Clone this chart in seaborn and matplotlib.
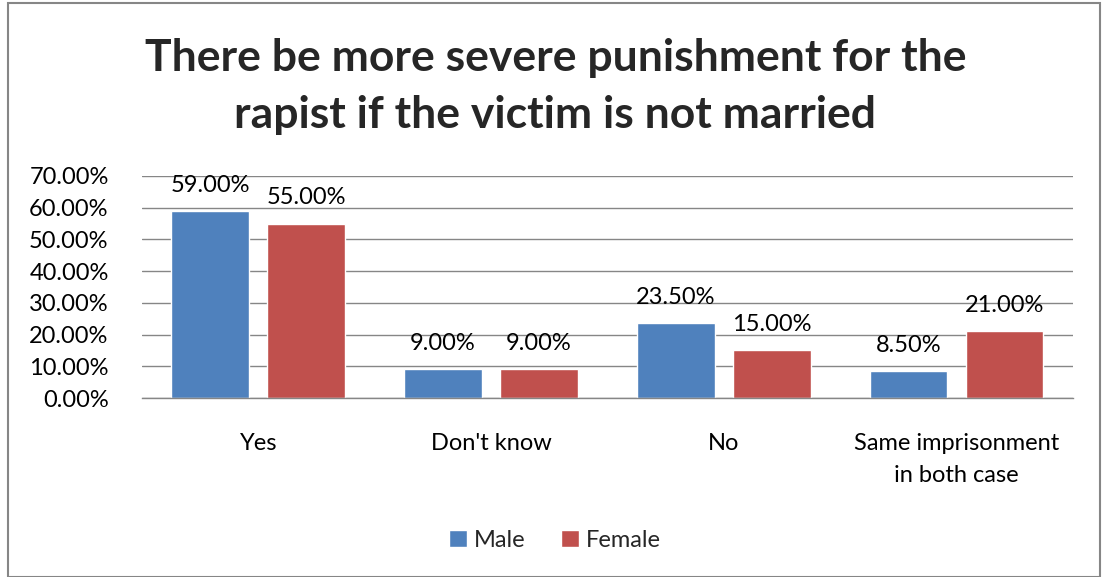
import matplotlib
matplotlib.use("Agg")
import matplotlib.pyplot as plt
from matplotlib.patches import Rectangle
from matplotlib.ticker import MultipleLocator, FuncFormatter
import seaborn as sns
import pandas as pd

categories = ["Yes", "Don't know", "No", "Same imprisonment\nin both case"]
male = [59.0, 9.0, 23.5, 8.5]
female = [55.0, 9.0, 15.0, 21.0]
series = ["Male", "Female"]
colors = ["#4F81BD", "#C0504D"]

df = pd.DataFrame({
    "category": categories * 2,
    "value": male + female,
    "sex": [series[0]] * len(categories) + [series[1]] * len(categories),
})

sns.set_theme(style="white")
plt.rcParams["font.family"] = ["Lato", "DejaVu Sans"]

fig = plt.figure(figsize=(11.04, 5.77), dpi=100)
ax = fig.add_axes([0.1286, 0.3102, 0.8433, 0.3848])

sns.barplot(data=df, x="category", y="value", hue="sex", palette=colors,
            width=0.825, gap=0.19, ax=ax, legend=True, saturation=1)

ax.set_ylim(0, 70)
ax.set_xlim(-0.5, len(categories) - 0.5)
ax.yaxis.set_major_locator(MultipleLocator(10))
ax.yaxis.set_major_formatter(FuncFormatter(lambda v, p: f"{v:.2f}%"))
ax.grid(axis="y", color="#868686", linewidth=1)
ax.set_axisbelow(True)
for s in ["top", "right", "left"]:
    ax.spines[s].set_visible(False)
ax.spines["bottom"].set_color("#868686")
ax.spines["bottom"].set_linewidth(1)
ax.tick_params(axis="y", labelsize=17, length=0, pad=24, colors="black")
ax.tick_params(axis="x", labelsize=17, length=0, pad=25, colors="black")
for lbl in ax.get_xticklabels():
    lbl.set_linespacing(1.65)
ax.set_xlabel("")
ax.set_ylabel("")

for cont in ax.containers:
    ax.bar_label(cont, labels=[f"{v:.2f}%" for v in cont.datavalues],
                 fontsize=17, padding=11, color="black")

handles, labels = ax.get_legend_handles_labels()
ax.legend_.remove()
fig.legend(handles, labels, loc="center", bbox_to_anchor=(0.503, 0.064),
           ncol=2, frameon=False, fontsize=17, handlelength=0.75,
           handleheight=0.75, columnspacing=1.5, handletextpad=0.3)

fig.text(0.503, 0.85, "There be more severe punishment for the\nrapist if the victim is not married",
         ha="center", va="center", fontsize=32, fontweight="bold",
         linespacing=1.5)

fig.patches.append(Rectangle((0.007, 0.0), 0.989, 0.995, transform=fig.transFigure,
                             fill=False, edgecolor="#868686", linewidth=1.5))

fig.savefig("out.png", dpi=100)
